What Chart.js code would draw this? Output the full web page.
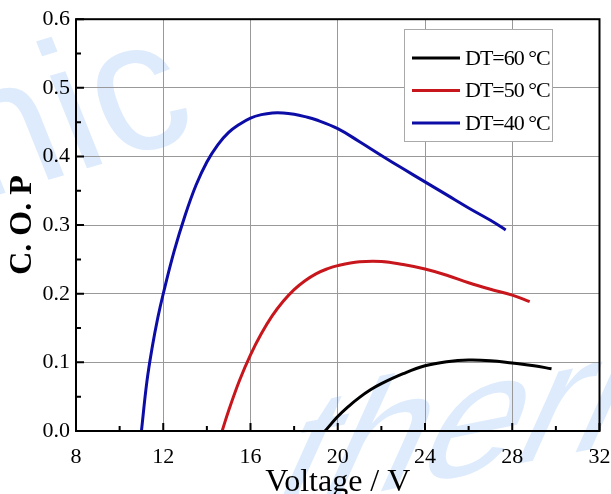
<!DOCTYPE html>
<html>
<head>
<meta charset="utf-8">
<title>C.O.P vs Voltage</title>
<script src="https://cdn.jsdelivr.net/npm/chart.js@4.4.1/dist/chart.umd.min.js"></script>
<style>
    html, body { margin: 0; padding: 0; background: #fff; }
    canvas { display: block; }
</style>
</head>
<body>
<canvas id="cop-chart" width="611" height="494"></canvas>
<script>
// Series data: voltage (V) against coefficient of performance
const seriesLabels = ['DT=60 °C', 'DT=50 °C', 'DT=40 °C'];
const seriesColors = ['#000000', '#c8161d', '#0c0ca6'];

const voltage60 = [19.42, 20.0, 20.5, 21.0, 21.5, 22.0, 23.0, 24.0, 25.0, 26.0, 27.0, 28.0, 29.0, 29.8];
const cop60 = [0.0, 0.021, 0.036, 0.049, 0.06, 0.069, 0.0835, 0.095, 0.101, 0.1035, 0.1025, 0.099, 0.095, 0.0907];

const voltage50 = [14.7, 15.0, 15.5, 16.0, 16.5, 17.0, 17.5, 18.0, 18.5, 19.0, 19.5, 20.0, 21.0, 22.0, 23.0, 24.0, 25.0, 26.0, 27.0, 28.0, 28.8];
const cop50 = [0.0, 0.03, 0.074, 0.111, 0.142, 0.168, 0.189, 0.206, 0.219, 0.229, 0.236, 0.241, 0.2465, 0.247, 0.2425, 0.236, 0.227, 0.216, 0.2065, 0.198, 0.1885];

const voltage40 = [11.0, 11.25, 11.5, 11.75, 12.0, 12.5, 13.0, 13.5, 14.0, 14.5, 15.0, 15.5, 16.0, 16.5, 17.0, 17.5, 18.0, 18.5, 19.0, 20.0, 21.0, 22.0, 23.0, 24.0, 25.0, 26.0, 27.0, 27.7];
const cop40 = [0.0, 0.072, 0.123, 0.165, 0.2, 0.262, 0.314, 0.358, 0.392, 0.417, 0.435, 0.447, 0.456, 0.461, 0.4635, 0.4635, 0.4615, 0.458, 0.4535, 0.4405, 0.4215, 0.4015, 0.382, 0.363, 0.344, 0.325, 0.307, 0.293];

const xTicks = [8, 12, 16, 20, 24, 28, 32];
const yTicks = [0.0, 0.1, 0.2, 0.3, 0.4, 0.5, 0.6];

const serif = "'Liberation Serif', 'Times New Roman', serif";

function toPoints(xs, ys) {
    return xs.map((x, i) => ({ x: x, y: ys[i] }));
}

const seriesPoints = [
    toPoints(voltage60, cop60),
    toPoints(voltage50, cop50),
    toPoints(voltage40, cop40)
];

// Faint slanted text behind the plot
const watermarkPlugin = {
    id: 'watermark',
    beforeDraw(chart) {
        const ctx = chart.ctx;
        ctx.save();
        ctx.fillStyle = '#ddebfc';
        ctx.font = "175px 'Liberation Sans', Arial, sans-serif";
        ctx.textBaseline = 'alphabetic';
        ctx.setTransform(1, -0.3, 0.4, 1, -22, 201);
        ctx.fillText('nic', 0, 0);
        ctx.setTransform(1, -0.2, -0.45, 1, 262, 515);
        ctx.fillText('therm', 0, 0);
        ctx.restore();
    }
};

// Frame around the plot area plus inward major/minor ticks
const framePlugin = {
    id: 'frame',
    afterDatasetsDraw(chart) {
        const { ctx, chartArea } = chart;
        const xs = chart.scales.x;
        const ys = chart.scales.y;
        ctx.save();
        ctx.strokeStyle = '#000';
        ctx.lineWidth = 2;
        ctx.beginPath();

        xTicks.forEach((v, i) => {
            const px = xs.getPixelForValue(v);
            ctx.moveTo(px, chartArea.bottom);
            ctx.lineTo(px, chartArea.bottom - 8);
            if (i < xTicks.length - 1) {
                const mx = xs.getPixelForValue((v + xTicks[i + 1]) / 2);
                ctx.moveTo(mx, chartArea.bottom);
                ctx.lineTo(mx, chartArea.bottom - 5);
            }
        });

        yTicks.forEach((v, i) => {
            const py = ys.getPixelForValue(v);
            ctx.moveTo(chartArea.left, py);
            ctx.lineTo(chartArea.left + 8, py);
            if (i < yTicks.length - 1) {
                const my = ys.getPixelForValue((v + yTicks[i + 1]) / 2);
                ctx.moveTo(chartArea.left, my);
                ctx.lineTo(chartArea.left + 5, my);
            }
        });
        ctx.stroke();

        ctx.strokeRect(chartArea.left, chartArea.top,
            chartArea.right - chartArea.left, chartArea.bottom - chartArea.top);
        ctx.restore();
    }
};

// Boxed legend in the upper right
const legendBoxPlugin = {
    id: 'legendBox',
    afterDraw(chart) {
        const ctx = chart.ctx;
        const box = { x: 404, y: 29, w: 148, h: 112 };
        ctx.save();
        ctx.fillStyle = '#fff';
        ctx.fillRect(box.x, box.y, box.w, box.h);
        ctx.strokeStyle = '#aaa';
        ctx.lineWidth = 1;
        ctx.strokeRect(box.x + 0.5, box.y + 0.5, box.w, box.h);

        ctx.font = '22px ' + serif;
        ctx.letterSpacing = '-1px';
        ctx.textBaseline = 'middle';
        ctx.fillStyle = '#000';
        chart.data.datasets.forEach((ds, i) => {
            const y = 58 + i * 32.5;
            ctx.strokeStyle = ds.borderColor;
            ctx.lineWidth = 3;
            ctx.beginPath();
            ctx.moveTo(412, y);
            ctx.lineTo(460, y);
            ctx.stroke();
            ctx.fillText(ds.label, 465, y + 1);
        });
        ctx.restore();
    }
};

const ctx = document.getElementById('cop-chart').getContext('2d');
const copChart = new Chart(ctx, {
    type: 'line',
    data: {
        datasets: seriesLabels.map((label, i) => ({
            label: label,
            data: seriesPoints[i],
            borderColor: seriesColors[i],
            borderWidth: 3,
            pointRadius: 0,
            fill: false,
            tension: 0.4,
            borderCapStyle: 'butt',
            borderJoinStyle: 'round'
        }))
    },
    options: {
        responsive: false,
        animation: false,
        layout: {
            padding: { top: 18, right: 11.5, left: 0, bottom: 0 }
        },
        plugins: {
            legend: { display: false },
            tooltip: { enabled: false }
        },
        scales: {
            x: {
                type: 'linear',
                min: 8,
                max: 32,
                afterBuildTicks: scale => {
                    scale.ticks = xTicks.map(v => ({ value: v }));
                },
                afterFit: scale => {
                    scale.height = 63;
                    scale.paddingLeft = 0;
                    scale.paddingRight = 0;
                },
                grid: { color: '#999', lineWidth: 1, drawTicks: false },
                border: { display: false },
                ticks: {
                    color: '#000',
                    padding: 13,
                    maxRotation: 0,
                    font: { family: serif, size: 22 }
                },
                title: {
                    display: true,
                    text: 'Voltage / V',
                    color: '#000',
                    font: { family: serif, size: 32 },
                    padding: { top: 0, bottom: -8 }
                }
            },
            y: {
                type: 'linear',
                min: 0,
                max: 0.6,
                afterBuildTicks: scale => {
                    scale.ticks = yTicks.map(v => ({ value: v }));
                },
                afterFit: scale => { scale.width = 76; },
                grid: { color: '#999', lineWidth: 1, drawTicks: false },
                border: { display: false },
                ticks: {
                    color: '#000',
                    padding: 6,
                    font: { family: serif, size: 22 },
                    callback: value => value.toFixed(1)
                },
                title: {
                    display: true,
                    text: 'C. O. P',
                    color: '#000',
                    font: { family: serif, size: 32, weight: 'bold' },
                    padding: { top: 4, bottom: 0 }
                }
            }
        }
    },
    plugins: [watermarkPlugin, framePlugin, legendBoxPlugin]
});
</script>
</body>
</html>
